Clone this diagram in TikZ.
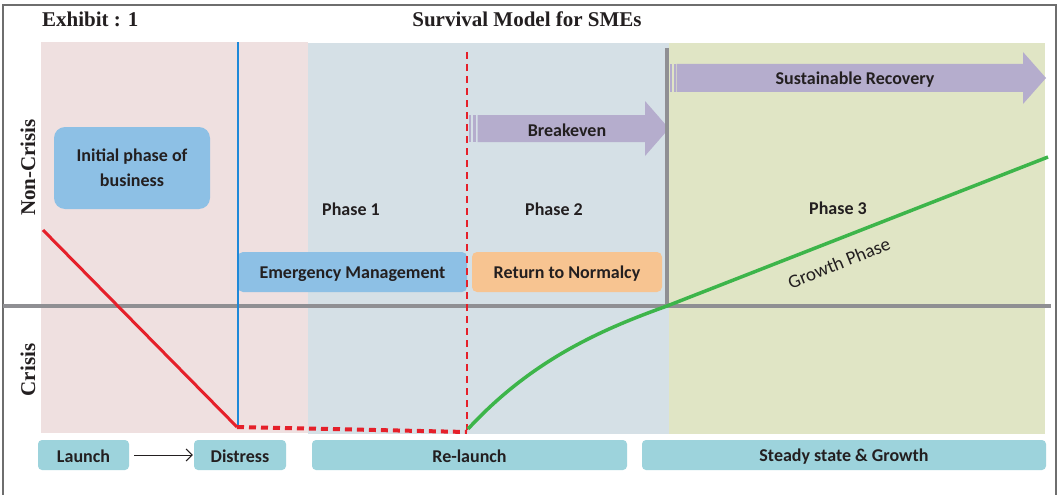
\documentclass[tikz,border=0pt]{standalone}
\usepackage{fontspec}
\setmainfont{Liberation Serif}
\newfontfamily\bodyfont{Carlito}
\usetikzlibrary{arrows.meta}

\definecolor{bgpink}{HTML}{EFE0E0}
\definecolor{bgblue}{HTML}{D5E0E6}
\definecolor{bggreen}{HTML}{E0E5C5}
\definecolor{arrowfill}{HTML}{B5ADCD}
\definecolor{boxblue}{HTML}{8DC0E5}
\definecolor{boxorange}{HTML}{F7C491}
\definecolor{tealbox}{HTML}{9DD3DC}
\definecolor{redline}{HTML}{E5202A}
\definecolor{greenline}{HTML}{3DB54A}
\definecolor{grayline}{HTML}{8F8F93}
\definecolor{dividerblue}{RGB}{30,136,216}
\definecolor{framegray}{HTML}{6E6E6E}
\definecolor{txt}{HTML}{231F20}

\begin{document}
\begin{tikzpicture}[x=1pt,y=-1pt,
  lbl/.style={font=\bodyfont\bfseries\fontsize{18}{20}\selectfont, text=txt},
  pill/.style={rounded corners=5pt, inner sep=0pt, lbl},
  stagebox/.style={fill=tealbox, rounded corners=4pt, minimum height=30pt, inner sep=0pt, lbl},
  axislbl/.style={font=\bfseries\fontsize{21}{24}\selectfont, text=txt, inner sep=0pt},
  titlefont/.style={font=\bfseries\fontsize{21}{24}\selectfont, text=txt, inner sep=0pt},
  axisline/.style={draw=grayline, line width=3.5pt},
  bigarrow/.style={fill=arrowfill}
]
\useasboundingbox (0,0) rectangle (1058,495);
\fill[white] (0,0) rectangle (1058,495);

% phase backgrounds
\fill[bgpink]  (41,42)  rectangle (308,433);
\fill[bgblue]  (308,43) rectangle (669,434);
\fill[bggreen] (669,43) rectangle (1045,434);

% outer frame
\draw[draw=framegray, line width=1.5pt] (3,495) -- (3,5) -- (1056,5) -- (1056,495);

% titles
\node[titlefont, anchor=base west] (exhibit) at (42,27) {Exhibit : 1};
\node[titlefont, anchor=base] (title) at (527,27) {Survival Model for SMEs};

% axis labels
\node[axislbl, rotate=90, anchor=base] (noncrisis) at (35,167.5) {Non-Crisis};
\node[axislbl, rotate=90, anchor=base] (crisis) at (35,370) {Crisis};

% boxes
\node[pill, fill=boxblue, rounded corners=11pt, minimum width=156pt, minimum height=82pt,
      align=center, font=\bodyfont\bfseries\fontsize{18}{25}\selectfont] (initial) at (132,168)
      {Initial phase of\\business};
\node[pill, fill=boxblue, minimum width=229pt, minimum height=40pt] (emergency) at (352.5,272) {};
\node[lbl] at ([yshift=-2pt]emergency.center) {Emergency Management};
\node[pill, fill=boxorange, minimum width=190pt, minimum height=40pt] (normalcy) at (567,272) {};
\node[lbl] at ([yshift=-2pt]normalcy.center) {Return to Normalcy};

% striped block arrows
\fill[bigarrow] (477.5,115) -- (645,115) -- (645,101) -- (669,128.5) -- (645,156) -- (645,142) -- (477.5,142) -- cycle;
\fill[bigarrow] (469,115) rectangle (471,142);
\fill[bigarrow] (473,115) rectangle (475.8,142);
\fill[bigarrow] (676.5,64) -- (1023,64) -- (1023,52) -- (1046,78) -- (1023,104) -- (1023,92) -- (676.5,92) -- cycle;
\fill[bigarrow] (670,64) rectangle (672.3,92);
\fill[bigarrow] (673.5,64) rectangle (675.6,92);
\node[lbl] (breakeven) at (567,130) {Breakeven};
\node[lbl] (sustainable) at (855,79.5) {Sustainable Recovery};

% key points of the survival curve
\coordinate (launchpt) at (43,230);
\coordinate (distresspt) at (237,427);
\coordinate (relaunchpt) at (467,432);
\coordinate (crosspt) at (667,306);
\coordinate (growthend) at (1048,157);

% axes and phase dividers
\draw[axisline] (3,306) -- (1051,306);
\draw[axisline] (667,48) -- (crosspt);
\fill[fill=dividerblue] (236.6,42) rectangle (238.6,428);
\draw[draw=redline, line width=1.6pt, dash pattern=on 7pt off 5pt] (467,52) -- (467,430);

% survival curve
\draw[draw=redline, line width=3pt] (launchpt) -- (distresspt);
\draw[draw=redline, line width=4pt, dash pattern=on 7pt off 5pt] (distresspt) -- (relaunchpt);
\draw[draw=greenline, line width=3.5pt] (468,429) .. controls (530,362) and (597,331) .. (crosspt) -- (growthend);

% phase labels
\node[lbl] (phase1) at (351,209) {Phase 1};
\node[lbl] (phase2) at (554,209) {Phase 2};
\node[lbl] (phase3) at (838,208) {Phase 3};
\node[font=\bodyfont\fontsize{19}{21}\selectfont, text=txt, rotate=22, inner sep=1pt] (growth) at (839,263) {Growth Phase};

% stage boxes along the bottom
\node[stagebox, minimum width=91pt] (launch) at (83.5,455) {};
\node[lbl] at ([yshift=-1.5pt]launch.center) {Launch};
\node[stagebox, minimum width=92pt] (distress) at (240,455) {};
\node[lbl] at ([yshift=-1.5pt]distress.center) {Distress};
\node[stagebox, minimum width=315pt] (relaunch) at (469.5,455) {};
\node[lbl] at ([yshift=-1.5pt]relaunch.center) {Re-launch};
\node[stagebox, minimum width=404pt] (steady) at (844,455) {};
\node[lbl] at ([yshift=-1.5pt]steady.center) {Steady state \& Growth};
\draw[-{Straight Barb[length=6pt,width=12pt]}, line width=1pt, draw=txt, shorten <=5pt, shorten >=1pt] (launch) -- (distress);
\end{tikzpicture}
\end{document}
